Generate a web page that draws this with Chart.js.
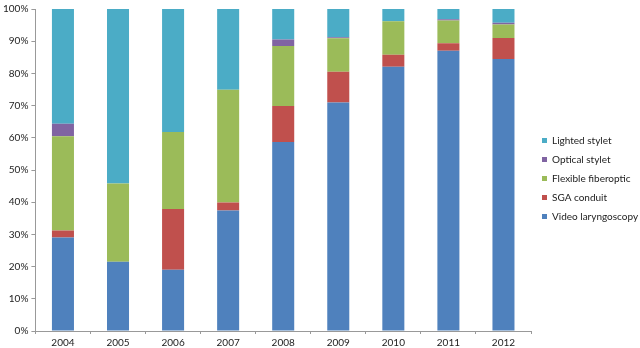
<!DOCTYPE html>
<html><head><meta charset="utf-8">
<script src="https://cdn.jsdelivr.net/npm/chart.js@4/dist/chart.umd.min.js"></script>
<style>html,body{margin:0;padding:0;background:#fff}#wrap{width:640px;height:348px}</style>
</head><body><div id="wrap"><canvas id="c"></canvas></div>
<script>
const years = ['2004','2005','2006','2007','2008','2009','2010','2011','2012'];
const videoLaryngoscopy = [29.0, 21.5, 19.0, 37.4, 58.7, 71.0, 82.1, 87.0, 84.5];
const sgaConduit       = [2.2, 0, 18.9, 2.5, 11.2, 9.5, 3.7, 2.4, 6.5];
const flexibleFiberoptic = [29.3, 24.3, 23.9, 35.0, 18.6, 10.4, 10.4, 7.0, 4.2];
const opticalStylet    = [3.9, 0, 0, 0, 2.0, 0.3, 0, 0.4, 0.5];
const lightedStylet    = [35.6, 54.2, 38.2, 25.1, 9.5, 8.8, 3.8, 3.2, 4.3];
const yTicks = [0,10,20,30,40,50,60,70,80,90,100];

const font = {family:'Lato, "Liberation Sans", sans-serif', size:10};
const lfont = {family:'Lato, "Liberation Sans", sans-serif', size:10};
const mk = (label, data, color) => ({label, data, backgroundColor: color, borderWidth:0, barPercentage:0.4, categoryPercentage:1});
const shiftLegend = {id:'shiftLegend', afterLayout(chart){ const l = chart.legend; if(l){ l.left += 2; l.right += 2; } }};
new Chart(document.getElementById('c'), {
  type:'bar',
  data:{labels:years, datasets:[
    mk('Video laryngoscopy', videoLaryngoscopy, '#4F81BD'),
    mk('SGA conduit', sgaConduit, '#C0504D'),
    mk('Flexible fiberoptic', flexibleFiberoptic, '#9BBB59'),
    mk('Optical stylet', opticalStylet, '#8064A2'),
    mk('Lighted stylet', lightedStylet, '#4BACC6')
  ]},
  plugins:[shiftLegend],
  options:{
    responsive:true, maintainAspectRatio:false, animation:false,
    layout:{padding:{top:5,right:0,left:0,bottom:-4}},
    plugins:{
      legend:{position:'right', reverse:true, align:'center', maxWidth:109,
        labels:{boxWidth:5, boxHeight:5, padding:9, color:'#222', font:lfont}},
      tooltip:{enabled:false}
    },
    scales:{
      x:{stacked:true,
        grid:{offset:true, drawOnChartArea:false, drawTicks:true, tickLength:3, color:'#999'},
        border:{color:'#999'},
        ticks:{color:'#222', font:font, padding:3, maxRotation:0}},
      y:{stacked:true, min:0, max:100,
        afterBuildTicks: ax => { ax.ticks = yTicks.map(v=>({value:v})); },
        grid:{drawOnChartArea:false, drawTicks:true, tickLength:4, color:'#999'},
        border:{color:'#999'},
        ticks:{color:'#222', font:font, padding:3, callback:v=>v+'%'}}
    }
  }
});
</script></body></html>
